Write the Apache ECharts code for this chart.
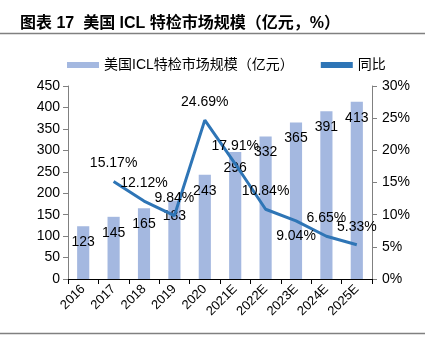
<!DOCTYPE html>
<html><head><meta charset="utf-8">
<script src="https://cdn.jsdelivr.net/npm/echarts@6/dist/echarts.min.js"></script>
<style>html,body{margin:0;padding:0;background:#fff}#c{width:431px;height:340px}</style>
</head><body><div id="c"></div>
<script>
const categories = ['2016','2017','2018','2019','2020','2021E','2022E','2023E','2024E','2025E'];
const marketSize = [123,145,165,183,243,296,332,365,391,413];
const yoy = ['-',15.17,12.12,9.84,24.69,17.91,10.84,9.04,6.65,5.33];
const titleText = '图表 17  美国 ICL 特检市场规模（亿元，%）';
const barName = '美国ICL特检市场规模（亿元）';
const lineName = '同比';

const FONT = '"Liberation Sans","Noto Sans CJK SC",sans-serif';
const lineData = yoy.map((v,i)=> categories[i]==='2023E'
  ? {value:v,label:{position:'bottom',distance:8}} : v);
const chart = echarts.init(document.getElementById('c'), null, {renderer:'canvas'});
chart.setOption({
  animation:false,
  backgroundColor:'#fff',
  textStyle:{fontFamily:FONT},
  title:{text:titleText,left:15,top:11,textStyle:{fontSize:16,fontWeight:'bold',color:'#000',fontFamily:FONT}},
  graphic:[
    {type:'line',shape:{x1:0,y1:33.5,x2:425,y2:33.5},style:{stroke:'#808080',lineWidth:1.5}},
    {type:'line',shape:{x1:0,y1:333.5,x2:425,y2:333.5},style:{stroke:'#808080',lineWidth:1.5}}
  ],
  legend:{top:53,left:62,itemGap:27,itemWidth:32,itemHeight:6,
    textStyle:{fontSize:14,color:'#000',fontFamily:FONT},
    data:[{name:barName,icon:'rect'},{name:lineName,icon:'rect',itemStyle:{color:'#2E75B6'}}]},
  grid:{left:68,right:59,top:86,bottom:61},
  xAxis:{type:'category',data:categories,
    axisLine:{lineStyle:{color:'#000',width:1}},
    axisTick:{show:true,alignWithLabel:false,length:5,lineStyle:{color:'#000'}},
    axisLabel:{rotate:45,fontSize:13,color:'#000',margin:8,interval:0}},
  yAxis:[
    {type:'value',min:0,max:450,interval:50,
      axisLine:{show:true,lineStyle:{color:'#808080'}},
      axisTick:{show:true,inside:false,length:5,lineStyle:{color:'#808080'}},
      splitLine:{show:false},
      axisLabel:{fontSize:14,color:'#000',margin:8}},
    {type:'value',min:0,max:30,interval:5,position:'right',
      axisLine:{show:true,lineStyle:{color:'#808080'}},
      axisTick:{show:true,length:5,lineStyle:{color:'#808080'}},
      splitLine:{show:false},
      axisLabel:{fontSize:14,color:'#000',margin:10,formatter:'{value}%'}}
  ],
  series:[
    {name:barName,type:'bar',data:marketSize,barWidth:'40%',
      itemStyle:{color:'#A4B8E0'},
      label:{show:true,position:'insideTop',distance:9,fontSize:14,color:'#000'}},
    {name:lineName,type:'line',yAxisIndex:1,data:lineData,symbol:'circle',symbolSize:0,showSymbol:true,
      lineStyle:{color:'#2E75B6',width:3},itemStyle:{color:'#2E75B6'},
      label:{show:true,position:'top',distance:11,fontSize:14,color:'#000',
        formatter:p=>(typeof p.value==='number'?p.value.toFixed(2)+'%':'')}}
  ]
});
</script></body></html>
